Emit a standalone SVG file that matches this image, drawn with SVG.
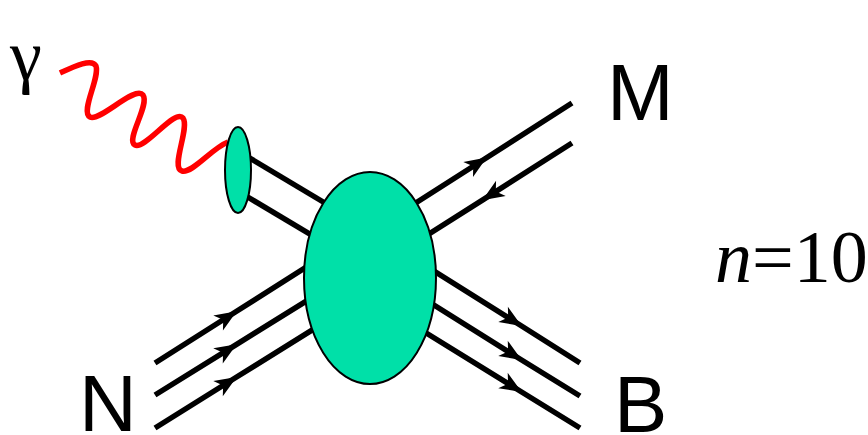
<svg xmlns="http://www.w3.org/2000/svg" width="868" height="435" viewBox="0 0 868 435">
<defs>
<marker id="arr" viewBox="-24 -12 26 24" refX="0" refY="0" markerWidth="26" markerHeight="24" markerUnits="userSpaceOnUse" orient="auto">
<path d="M2,0 L-20,-9 L-14,0 L-20,9 Z" fill="#000"/>
</marker>
</defs>
<style>
.ln{fill:none;stroke:#000;stroke-width:5.5}
.blob{fill:#00E0A8;stroke:#000;stroke-width:2}
.lbl{font-family:"Liberation Sans",Arial,sans-serif;font-size:80px;fill:#000}
.ser{font-family:"Liberation Serif","Times New Roman",serif;fill:#000}
</style>
<rect width="868" height="435" fill="#fff"/>
<g id="connectors">
<path id="photon" d="M60,73 C75,66 92,58 96,66 C100,78 80,112 90,117 C100,122 135,85 143,95 C150,105 125,140 135,145 C145,150 175,108 183,118 C190,128 170,168 182,171 C192,174 212,148 228,142" fill="none" stroke="#f00" stroke-width="5.5"/>
<line class="ln" x1="248" y1="157" x2="345" y2="215"/>
<line class="ln" x1="246" y1="196" x2="345" y2="255"/>
<path class="ln" d="M155,363 L235,312.3 L330,252" marker-mid="url(#arr)"/>
<path class="ln" d="M155,395 L235,345.4 L330,286.4" marker-mid="url(#arr)"/>
<path class="ln" d="M155,428 L235,378 L330,318.8" marker-mid="url(#arr)"/>
<path class="ln" d="M400,213 L485,158.7 L572,103" marker-mid="url(#arr)"/>
<path class="ln" d="M572,143 L484,199.1 L410,246" marker-mid="url(#arr)"/>
<path class="ln" d="M410,256 L520,325 L580,363" marker-mid="url(#arr)"/>
<path class="ln" d="M410,290 L520,359 L580,396" marker-mid="url(#arr)"/>
<path class="ln" d="M410,323 L520,391 L580,428" marker-mid="url(#arr)"/>
</g>
<g id="photon-blob"><ellipse class="blob" cx="238" cy="170" rx="13" ry="43"/></g>
<g id="vertex"><ellipse class="blob" cx="370" cy="278" rx="66" ry="106"/></g>
<g id="label-gamma"><text class="ser" x="10" y="80" font-size="72">γ</text></g>
<g id="label-M"><text class="lbl" x="607" y="120">M</text></g>
<g id="label-N"><text class="lbl" x="79" y="431">N</text></g>
<g id="label-B"><text class="lbl" x="614" y="432">B</text></g>
<g id="label-n"><text class="ser" x="715" y="282" font-size="74"><tspan font-style="italic">n</tspan>=10</text></g>
</svg>
